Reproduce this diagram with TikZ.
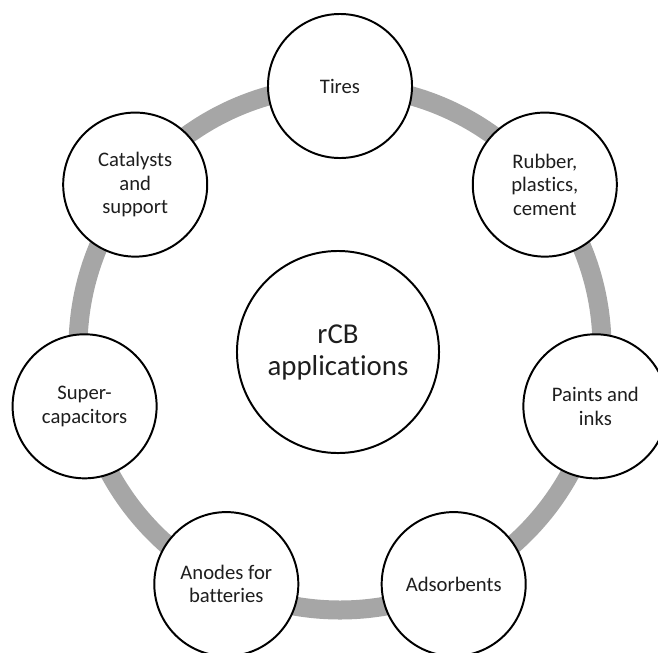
\documentclass[tikz,border=0pt]{standalone}
\usepackage{fontspec}
\setmainfont[Ligatures=NoCommon]{Carlito}
\definecolor{ringgray}{RGB}{166,166,166}
\definecolor{txt}{RGB}{30,30,30}
\tikzset{
  app/.style={circle,draw=black,line width=1.4pt,fill=white,minimum size=3.6cm,
    inner sep=0pt,align=center,text=txt,font=\fontsize{14.7pt}{16.6pt}\selectfont},
  hub/.style={app,minimum size=5.05cm,font=\fontsize{20.5pt}{22.8pt}\selectfont},
}
\begin{document}
\begin{tikzpicture}[x=0.025cm,y=-0.025cm]
\useasboundingbox (0,0) rectangle (658,652);
\clip (0,0) rectangle (658,652);

% grey ring behind the circles
\coordinate (ringc) at (340,348);
\draw[ringgray,line width=19*0.7113pt] (ringc) circle (262);

\node[hub] (rcb) at (338,352) {rCB\\applications};

\node[app] (tires) at (340,86) {Tires};
\node[app] (rubber) at (544.8,184.6) {Rubber,\\plastics,\\cement};
\node[app] (paints) at (595.4,406.3) {Paints and\\inks};
\node[app] (adsorb) at (453.7,584.1) {Adsorbents};
\node[app] (anodes) at (226.3,584.1) {Anodes for\\batteries};
\node[app] (supercap) at (84.6,406.3) {Super-\\capacitors};
\node[app] (catal) at (135.2,184.6) {Catalysts\\and\\support};
\end{tikzpicture}
\end{document}
